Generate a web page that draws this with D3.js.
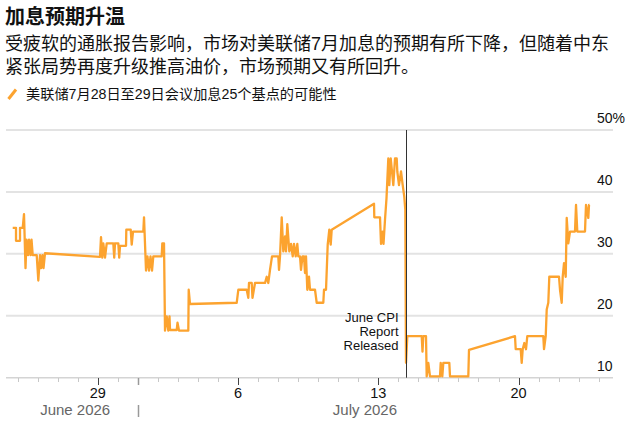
<!DOCTYPE html>
<html><head><meta charset="utf-8">
<script src="https://cdn.jsdelivr.net/npm/d3@7"></script>
<style>
html,body{margin:0;padding:0;background:#fff;}
svg{display:block;}
text{font-family:"Liberation Sans","Noto Sans CJK SC",Arial,sans-serif;}
</style></head>
<body><svg id="c" width="634" height="422"></svg>
<script>
const title = "加息预期升温";
const subtitleLines = ["受疲软的通胀报告影响，市场对美联储7月加息的预期有所下降，但随着中东",
                       "紧张局势再度升级推高油价，市场预期又有所回升。"];
const seriesName = "美联储7月28日至29日会议加息25个基点的可能性";
const annotationLines = ["June CPI", "Report", "Released"];
const cpiTime = "07-14 08:50";
const yTicks = [10, 20, 30, 40, 50];
const yTickLabels = ["10", "20", "30", "40", "50%"];
const monthLabels = ["June 2026", "July 2026"];
const monthLabelTimes = ["06-27 21:00", "07-12 08:00"];
const monthSeparator = "07-01 00:00";
const domainTimes = ["06-24 10:10", "07-24 17:07"];

const times = [
"06-24 18:12","06-24 22:09","06-24 22:10","06-25 02:57","06-25 02:58","06-25 06:11","06-25 07:44","06-25 09:32","06-25 10:44","06-25 12:32",
"06-25 13:44","06-25 15:32","06-25 16:44","06-25 18:09","06-25 22:57","06-26 00:52","06-26 02:54","06-26 04:06","06-26 05:54","06-26 07:05",
"06-26 08:53","06-29 02:45","06-29 03:57","06-29 05:30","06-29 06:42","06-29 08:45","06-29 10:47","06-29 18:41","06-29 19:46","06-29 20:43",
"06-30 00:40","06-30 01:45","06-30 02:42","06-30 09:54","06-30 10:15","06-30 15:31","06-30 16:43","06-30 18:17","07-01 06:37","07-01 07:27",
"07-01 09:51","07-01 11:38","07-01 13:26","07-01 15:14","07-01 17:02","07-01 18:35","07-02 04:39","07-02 05:22","07-02 07:24","07-02 08:36",
"07-02 10:38","07-02 12:33","07-02 13:59","07-02 14:35","07-02 22:36","07-02 23:34","07-03 01:22","07-03 12:30","07-03 12:59","07-03 14:32",
"07-05 22:28","07-06 00:23","07-06 10:27","07-06 12:22","07-06 13:11","07-06 16:26","07-06 17:23","07-06 20:23","07-07 08:22","07-07 10:24",
"07-07 12:19","07-07 14:21","07-07 16:45","07-08 00:17","07-08 01:08","07-08 02:19","07-08 04:22","07-08 06:17","07-08 08:19","07-08 09:30",
"07-08 11:04","07-08 13:28","07-08 15:30","07-08 17:32","07-08 19:05","07-08 21:07","07-08 23:02","07-09 00:14","07-09 02:17","07-09 03:28",
"07-09 05:16","07-09 07:04","07-09 08:16","07-09 09:27","07-09 11:01","07-09 13:03","07-09 14:15","07-09 20:14","07-09 22:16","07-10 06:11",
"07-10 07:01","07-10 09:25","07-10 11:27","07-10 13:22","07-10 15:02","07-10 16:14","07-12 18:54","07-12 19:15","07-13 02:05","07-13 03:17",
"07-13 05:05","07-13 06:17","07-13 08:04","07-13 09:52","07-13 12:01","07-13 13:13","07-13 14:54","07-13 16:27","07-13 18:01","07-13 20:02",
"07-13 22:05","07-13 22:48","07-14 00:50","07-14 03:14","07-14 05:16","07-14 07:11","07-14 08:23","07-14 09:13","07-14 10:47","07-15 04:02",
"07-15 04:59","07-15 05:56","07-15 09:10","07-15 10:00","07-15 11:56","07-15 13:58","07-16 01:56","07-16 02:47","07-16 04:42","07-16 05:54",
"07-16 13:05","07-16 13:55","07-17 11:50","07-17 12:40","07-19 19:45","07-19 20:36","07-20 02:35","07-20 03:47","07-20 04:59","07-20 06:54",
"07-20 08:56","07-20 10:29","07-21 05:39","07-21 06:30","07-21 08:32","07-21 09:44","07-21 11:38","07-21 12:50","07-22 00:27","07-22 01:39",
"07-22 03:41","07-22 04:53","07-22 06:27","07-22 08:29","07-22 09:41","07-22 11:35","07-22 13:38","07-22 19:37","07-22 20:49","07-22 22:22",
"07-23 07:36","07-23 08:11","07-23 08:47","07-23 11:33","07-23 12:23","07-23 12:59"];

const probs = [
34.2,34.2,32.1,32.1,34.2,34.2,36.4,27.7,32.3,29.8,
32.3,29.8,32.3,29.8,29.8,25.7,29.8,27.7,29.8,27.7,
30.1,29.5,32.7,29.4,31.7,29.4,31.7,31.7,29.4,31.7,
31.7,29.4,31.3,31.3,33.9,33.9,31.5,33.6,33.6,35.9,
27.3,29.6,27.3,29.6,27.3,29.6,29.6,31.7,31.7,17.6,
19.9,17.6,19.9,17.7,17.7,18.9,17.6,17.6,24.2,21.9,
22.1,24.2,24.2,22.9,25.3,25.3,22.9,25.3,25.3,26.3,
25.3,27.4,29.6,29.6,27.4,29.6,35.9,30.4,32.8,30.4,
34.8,30.4,31.6,29.6,31.6,29.6,31.6,29.6,29.6,27.4,
29.6,29.6,26.9,29.6,24.2,26.3,24.2,24.2,22.1,22.1,
24.2,24.2,31.5,33.9,31.5,33.9,38.1,35.9,35.9,31.6,
33.6,31.6,35.5,39.0,45.4,41.1,45.4,43.3,41.1,45.4,
45.4,43.3,41.1,43.3,41.1,39.2,37.1,12.4,16.7,16.7,
14.2,16.7,16.7,10.2,12.4,10.2,10.2,12.4,10.2,12.4,
12.4,10.2,10.2,14.5,16.7,14.6,14.6,12.4,14.6,15.6,
14.6,16.7,16.7,14.6,16.7,21.0,22.1,26.3,26.3,24.2,
22.1,26.3,28.5,26.3,35.8,31.7,33.6,33.6,37.9,33.6,
33.6,35.8,37.9,35.8,37.9,37.9];

const parse = d3.timeParse("%Y-%m-%d %H:%M");
const T = s => parse("2026-" + s);
const n = Math.min(times.length, probs.length);
const data = d3.range(n).map(i => ({t: T(times[i]), v: probs[i]}));

const svg = d3.select("#c");
const orange = "#fca32f";

// header
svg.append("text").attr("x", 5).attr("y", 24).attr("font-size", 20).attr("font-weight", "bold")
  .attr("fill", "#111").text(title);
subtitleLines.forEach((s, i) => {
  svg.append("text").attr("x", 5).attr("y", 49.5 + i * 23.4).attr("font-size", 18)
    .attr("fill", "#111").text(s);
});
svg.append("line").attr("x1", 8.5).attr("y1", 99).attr("x2", 16).attr("y2", 89.5)
  .attr("stroke", orange).attr("stroke-width", 3);
svg.append("text").attr("x", 26).attr("y", 99).attr("font-size", 14.2).attr("fill", "#111").text(seriesName);

// scales
const x = d3.scaleTime().domain(domainTimes.map(T)).range([6, 613]);
const y = d3.scaleLinear().domain([10, 50]).range([377.7, 130]);

// gridlines
const grid = svg.append("g");
yTicks.forEach((v, i) => {
  if (v > 10) {
    grid.append("line").attr("x1", 6).attr("x2", 613).attr("y1", y(v)).attr("y2", y(v))
      .attr("stroke", "#e3e3e3").attr("stroke-width", 2);
  }
  grid.append("text").attr("x", 597).attr("y", y(v) - 6.7).attr("font-size", 14)
    .attr("fill", "#111").text(yTickLabels[i]);
});

// x axis
const days = d3.timeDay.range(d3.timeDay.ceil(x.domain()[0]), x.domain()[1]);
const ax = svg.append("g");
ax.append("line").attr("x1", 6).attr("x2", 613).attr("y1", 377.7).attr("y2", 377.7)
  .attr("stroke", "#d4d4d4").attr("stroke-width", 1.5);
const sep = +T(monthSeparator);
days.forEach(d => {
  const xx = Math.round(x(d)) + 0.5;
  const isMajor = d.getDay() === 1;
  const isSep = +d === sep;
  if (isSep) {
    ax.append("line").attr("x1", xx).attr("x2", xx).attr("y1", 378).attr("y2", 385)
      .attr("stroke", "#999").attr("stroke-width", 1.5);
    ax.append("line").attr("x1", xx).attr("x2", xx).attr("y1", 405).attr("y2", 417)
      .attr("stroke", "#999").attr("stroke-width", 1.5);
  } else if (isMajor) {
    ax.append("line").attr("x1", xx).attr("x2", xx).attr("y1", 378).attr("y2", 385)
      .attr("stroke", "#444").attr("stroke-width", 1);
    ax.append("text").attr("x", x(d)).attr("y", 398.3).attr("text-anchor", "middle")
      .attr("font-size", 14.5).attr("fill", "#111").text(d.getDate());
  } else {
    ax.append("line").attr("x1", xx).attr("x2", xx).attr("y1", 378).attr("y2", 382)
      .attr("stroke", "#c8c8c8").attr("stroke-width", 1);
  }
});
monthLabels.forEach((m, i) => {
  ax.append("text").attr("x", x(T(monthLabelTimes[i]))).attr("y", 415).attr("text-anchor", "middle")
    .attr("font-size", 15).attr("fill", "#666").text(m);
});

// series
const line = d3.line().x(d => x(d.t)).y(d => y(d.v));
svg.append("path").datum(data).attr("d", line).attr("fill", "none")
  .attr("stroke", orange).attr("stroke-width", 2.3).attr("stroke-linejoin", "round");

// CPI annotation
const cx = Math.round(x(T(cpiTime))) + 0.5;
svg.append("line").attr("x1", cx).attr("x2", cx).attr("y1", y(50)).attr("y2", y(10))
  .attr("stroke", "#333").attr("stroke-width", 1);
annotationLines.forEach((s, i) => {
  svg.append("text").attr("x", cx - 8).attr("y", 321.5 + i * 14).attr("text-anchor", "end")
    .attr("font-size", 13).attr("fill", "#111").text(s);
});
</script></body></html>
